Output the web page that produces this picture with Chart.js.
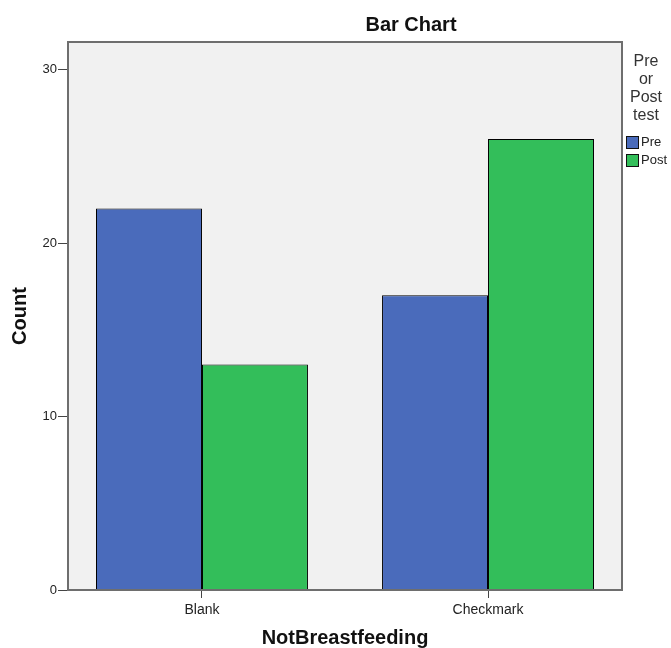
<!DOCTYPE html>
<html>
<head>
<meta charset="utf-8">
<script src="https://cdn.jsdelivr.net/npm/chart.js@4.4.1/dist/chart.umd.min.js"></script>
<style>
  html, body { margin: 0; padding: 0; background: #fff; }
  #wrap { width: 671px; height: 648px; }
</style>
</head>
<body>
<div id="wrap"><canvas id="bar-chart" width="671" height="648"></canvas></div>
<script>
const categories = ['Blank', 'Checkmark'];
const preCounts = [22, 17];
const postCounts = [13, 26];
const seriesNames = ['Pre', 'Post'];
const yTicks = [0, 10, 20, 30];
const legendTitle = ['Pre', 'or', 'Post', 'test'];

const FONT = '"Liberation Sans", Arial, sans-serif';
const BLUE = '#4a6bbb';
const GREEN = '#33be5a';

// plot background + frame + all the loose text
const decor = {
  id: 'decor',
  beforeDraw(chart) {
    const { ctx, chartArea: a } = chart;
    ctx.save();
    ctx.fillStyle = '#f1f1f1';
    ctx.fillRect(a.left, a.top, a.right - a.left, a.bottom - a.top);
    ctx.restore();
  },
  afterDraw(chart) {
    const { ctx, chartArea: a } = chart;
    ctx.save();
    ctx.strokeStyle = '#6e6e6e';
    ctx.lineWidth = 2;
    ctx.strokeRect(a.left, a.top, a.right - a.left, a.bottom - a.top);

    ctx.fillStyle = '#111';
    ctx.textAlign = 'center';
    ctx.textBaseline = 'middle';
    ctx.font = 'bold 20px ' + FONT;
    ctx.fillText('Bar Chart', 411, 25);
    ctx.fillText('NotBreastfeeding', (a.left + a.right) / 2, 638);
    ctx.save();
    ctx.translate(20, (a.top + a.bottom) / 2);
    ctx.rotate(-Math.PI / 2);
    ctx.fillText('Count', 0, 0);
    ctx.restore();

    // legend
    ctx.fillStyle = '#333';
    ctx.font = '16px ' + FONT;
    legendTitle.forEach((t, i) => ctx.fillText(t, 646, 62 + i * 18));
    const colors = [BLUE, GREEN];
    ctx.textAlign = 'left';
    ctx.font = '13px ' + FONT;
    seriesNames.forEach((n, i) => {
      const y = 136 + i * 18;
      ctx.fillStyle = colors[i];
      ctx.fillRect(626, y, 12, 12);
      ctx.strokeStyle = '#111';
      ctx.lineWidth = 1;
      ctx.strokeRect(626.5, y + 0.5, 12, 12);
      ctx.fillStyle = '#222';
      ctx.fillText(n, 641, y + 6);
    });
    ctx.restore();
  }
};

new Chart(document.getElementById('bar-chart').getContext('2d'), {
  type: 'bar',
  data: {
    labels: categories,
    datasets: [
      { label: seriesNames[0], data: preCounts, backgroundColor: BLUE, borderColor: '#000', borderWidth: 1 },
      { label: seriesNames[1], data: postCounts, backgroundColor: GREEN, borderColor: '#000', borderWidth: 1 }
    ]
  },
  options: {
    responsive: false,
    animation: false,
    layout: { padding: { top: 42, right: 49, left: 0, bottom: 0 } },
    datasets: { bar: { barPercentage: 1, categoryPercentage: 0.741 } },
    plugins: { legend: { display: false }, tooltip: { enabled: false } },
    scales: {
      x: {
        afterFit: s => { s.height = 58; },
        // spss leaves a bit less room at the ends than chart.js does
        afterUpdate: s => { s._startValue = -0.4684; s._valueRange = 1.9368; },
        grid: { offset: false, drawOnChartArea: false, drawTicks: true, tickLength: 8, color: '#444' },
        border: { display: false },
        ticks: { color: '#222', padding: 4, font: { family: FONT, size: 14 } }
      },
      y: {
        min: 0,
        max: 31.6,
        afterFit: s => { s.width = 68; },
        afterBuildTicks: s => { s.ticks = yTicks.map(v => ({ value: v })); },
        grid: { drawOnChartArea: false, drawTicks: true, tickLength: 10, color: '#444' },
        border: { display: false },
        ticks: { color: '#222', padding: 1, font: { family: FONT, size: 13 } }
      }
    }
  },
  plugins: [decor]
});
</script>
</body>
</html>
